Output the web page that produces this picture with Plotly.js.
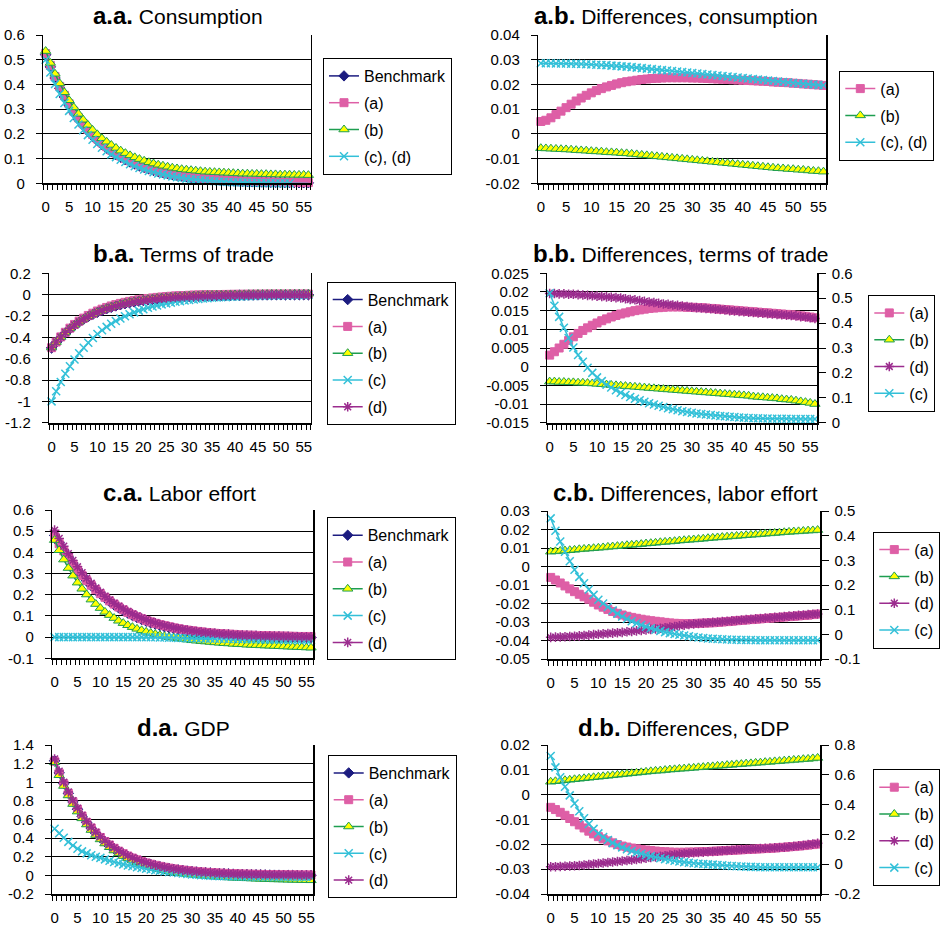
<!DOCTYPE html>
<html><head><meta charset="utf-8">
<script src="https://cdn.plot.ly/plotly-3.0.1.min.js"></script>
<style>html,body{margin:0;padding:0;background:#fff}#chart{width:940px;height:926px}</style>
</head><body><div id="chart"></div>
<script>
// ---------------- DATA ----------------
const periods = [0,1,2,3,4,5,6,7,8,9,10,11,12,13,14,15,16,17,18,19,20,21,22,23,24,25,26,27,28,29,30,31,32,33,34,35,36,37,38,39,40,41,42,43,44,45,46,47,48,49,50,51,52,53,54,55,56];
const xTickVals = [0,5,10,15,20,25,30,35,40,45,50,55];

// a.a. Consumption
const aaYTicks = ["0","0.1","0.2","0.3","0.4","0.5","0.6"];
const aaBench = [0.520,0.471,0.426,0.385,0.349,0.315,0.285,0.258,0.234,0.211,0.191,0.173,0.157,0.142,0.128,0.116,0.105,0.095,0.086,0.078,0.070,0.064,0.058,0.052,0.047,0.043,0.039,0.035,0.032,0.029,0.026,0.023,0.021,0.019,0.017,0.016,0.014,0.013,0.012,0.011,0.010,0.009,0.008,0.007,0.006,0.006,0.005,0.005,0.004,0.004,0.004,0.003,0.003,0.003,0.002,0.002,0.002];
const aaA = [0.525,0.477,0.432,0.392,0.356,0.322,0.292,0.265,0.241,0.218,0.198,0.180,0.163,0.148,0.134,0.122,0.110,0.100,0.091,0.082,0.074,0.067,0.061,0.055,0.050,0.045,0.041,0.037,0.034,0.031,0.028,0.025,0.023,0.021,0.019,0.017,0.016,0.014,0.013,0.012,0.011,0.010,0.009,0.008,0.007,0.007,0.006,0.006,0.005,0.005,0.004,0.004,0.004,0.003,0.003,0.003,0.003];
const aaB = [0.535,0.487,0.443,0.404,0.368,0.336,0.307,0.281,0.257,0.236,0.216,0.198,0.182,0.168,0.155,0.143,0.132,0.122,0.113,0.105,0.098,0.091,0.085,0.080,0.075,0.071,0.067,0.063,0.060,0.057,0.055,0.053,0.051,0.049,0.047,0.046,0.045,0.044,0.043,0.042,0.041,0.040,0.039,0.039,0.038,0.038,0.037,0.037,0.036,0.036,0.035,0.035,0.035,0.034,0.034,0.034,0.033];
const aaCD = [0.500,0.448,0.402,0.361,0.325,0.293,0.264,0.238,0.215,0.195,0.176,0.159,0.144,0.130,0.117,0.106,0.095,0.086,0.077,0.069,0.062,0.056,0.050,0.045,0.040,0.036,0.032,0.028,0.025,0.022,0.019,0.017,0.015,0.013,0.011,0.010,0.008,0.007,0.006,0.005,0.004,0.004,0.003,0.003,0.002,0.002,0.001,0.001,0.001,0.000,0.000,0.000,0.000,-0.001,-0.001,-0.001,-0.001];

// a.b. Differences, consumption
const abYTicks = ["-0.02","-0.01","0","0.01","0.02","0.03","0.04"];
const abA = [0.0050,0.0055,0.0065,0.0078,0.0092,0.0106,0.0120,0.0133,0.0145,0.0156,0.0166,0.0175,0.0183,0.0190,0.0196,0.0202,0.0207,0.0211,0.0214,0.0217,0.0220,0.0222,0.0224,0.0225,0.0226,0.0227,0.0227,0.0227,0.0227,0.0227,0.0226,0.0226,0.0225,0.0224,0.0223,0.0222,0.0221,0.0220,0.0219,0.0218,0.0217,0.0216,0.0215,0.0214,0.0213,0.0212,0.0210,0.0209,0.0208,0.0207,0.0205,0.0204,0.0202,0.0201,0.0199,0.0198,0.0196];
const abB = [-0.0058,-0.0059,-0.0060,-0.0061,-0.0062,-0.0063,-0.0064,-0.0066,-0.0067,-0.0068,-0.0070,-0.0071,-0.0072,-0.0074,-0.0075,-0.0076,-0.0078,-0.0079,-0.0081,-0.0083,-0.0085,-0.0087,-0.0089,-0.0091,-0.0093,-0.0095,-0.0097,-0.0099,-0.0101,-0.0103,-0.0105,-0.0107,-0.0109,-0.0111,-0.0113,-0.0115,-0.0117,-0.0119,-0.0121,-0.0123,-0.0125,-0.0127,-0.0129,-0.0131,-0.0133,-0.0135,-0.0137,-0.0139,-0.0140,-0.0142,-0.0143,-0.0145,-0.0146,-0.0148,-0.0150,-0.0151,-0.0153];
const abCD = [0.0286,0.0286,0.0286,0.0285,0.0285,0.0285,0.0284,0.0284,0.0283,0.0282,0.0281,0.0280,0.0279,0.0278,0.0276,0.0275,0.0273,0.0272,0.0270,0.0268,0.0266,0.0264,0.0262,0.0260,0.0258,0.0256,0.0254,0.0252,0.0250,0.0248,0.0246,0.0244,0.0242,0.0240,0.0238,0.0236,0.0234,0.0232,0.0230,0.0228,0.0226,0.0224,0.0222,0.0220,0.0218,0.0216,0.0214,0.0212,0.0210,0.0208,0.0206,0.0204,0.0203,0.0201,0.0200,0.0198,0.0197];

// b.a. Terms of trade
const baYTicks = ["-1.2","-1","-0.8","-0.6","-0.4","-0.2","0","0.2"];
const baBench = [-0.500,-0.448,-0.401,-0.359,-0.321,-0.287,-0.257,-0.230,-0.206,-0.185,-0.165,-0.148,-0.132,-0.119,-0.106,-0.095,-0.085,-0.076,-0.068,-0.061,-0.055,-0.049,-0.044,-0.039,-0.035,-0.031,-0.028,-0.025,-0.023,-0.020,-0.018,-0.016,-0.015,-0.013,-0.012,-0.011,-0.010,-0.009,-0.008,-0.007,-0.006,-0.006,-0.005,-0.004,-0.004,-0.003,-0.003,-0.003,-0.002,-0.002,-0.002,-0.002,-0.002,-0.001,-0.001,-0.001,-0.001];
const baA = [-0.497,-0.444,-0.396,-0.353,-0.314,-0.279,-0.248,-0.220,-0.195,-0.174,-0.153,-0.136,-0.120,-0.106,-0.093,-0.082,-0.072,-0.063,-0.055,-0.048,-0.042,-0.036,-0.031,-0.026,-0.022,-0.018,-0.015,-0.012,-0.010,-0.008,-0.006,-0.004,-0.003,-0.002,-0.001,0.000,0.001,0.001,0.002,0.002,0.003,0.003,0.003,0.004,0.004,0.004,0.004,0.005,0.005,0.005,0.005,0.005,0.005,0.005,0.005,0.005,0.005];
const baB = [-0.496,-0.444,-0.397,-0.355,-0.317,-0.283,-0.253,-0.226,-0.202,-0.180,-0.160,-0.143,-0.127,-0.113,-0.101,-0.089,-0.079,-0.070,-0.062,-0.055,-0.048,-0.042,-0.037,-0.032,-0.028,-0.024,-0.021,-0.018,-0.015,-0.013,-0.010,-0.008,-0.007,-0.005,-0.004,-0.003,-0.002,-0.001,0.000,0.001,0.002,0.002,0.003,0.004,0.004,0.005,0.005,0.005,0.006,0.006,0.007,0.007,0.007,0.008,0.008,0.008,0.009];
const baC = [-1.000,-0.905,-0.819,-0.741,-0.671,-0.607,-0.549,-0.497,-0.450,-0.407,-0.368,-0.333,-0.302,-0.273,-0.247,-0.224,-0.202,-0.183,-0.166,-0.150,-0.136,-0.123,-0.111,-0.101,-0.091,-0.082,-0.075,-0.067,-0.061,-0.055,-0.050,-0.045,-0.041,-0.037,-0.034,-0.030,-0.027,-0.025,-0.023,-0.020,-0.018,-0.017,-0.015,-0.014,-0.012,-0.011,-0.010,-0.009,-0.008,-0.007,-0.007,-0.006,-0.006,-0.005,-0.005,-0.004,-0.004];
const baD = [-0.495,-0.443,-0.397,-0.355,-0.318,-0.284,-0.254,-0.228,-0.204,-0.183,-0.163,-0.146,-0.131,-0.118,-0.105,-0.094,-0.084,-0.075,-0.067,-0.060,-0.054,-0.048,-0.043,-0.038,-0.034,-0.030,-0.027,-0.024,-0.022,-0.019,-0.017,-0.015,-0.014,-0.012,-0.011,-0.010,-0.009,-0.008,-0.007,-0.006,-0.005,-0.005,-0.004,-0.003,-0.003,-0.002,-0.002,-0.002,-0.001,-0.001,-0.001,-0.001,-0.001,0.000,0.000,0.000,0.000];

// b.b. Differences, terms of trade
const bbYTicks = ["-0.015","-0.01","-0.005","0","0.005","0.01","0.015","0.02","0.025"];
const bbY2Ticks = ["0","0.1","0.2","0.3","0.4","0.5","0.6"];
const bbA = [0.0031,0.0040,0.0050,0.0060,0.0070,0.0080,0.0089,0.0097,0.0104,0.0111,0.0117,0.0123,0.0128,0.0133,0.0137,0.0141,0.0144,0.0147,0.0150,0.0152,0.0154,0.0156,0.0157,0.0158,0.0159,0.0160,0.0160,0.0160,0.0160,0.0159,0.0159,0.0158,0.0158,0.0157,0.0156,0.0155,0.0154,0.0153,0.0152,0.0151,0.0150,0.0149,0.0148,0.0147,0.0146,0.0145,0.0144,0.0143,0.0142,0.0141,0.0140,0.0139,0.0138,0.0136,0.0135,0.0133,0.0131];
const bbB = [-0.0040,-0.0040,-0.0041,-0.0041,-0.0042,-0.0042,-0.0043,-0.0043,-0.0044,-0.0045,-0.0046,-0.0047,-0.0048,-0.0049,-0.0050,-0.0051,-0.0052,-0.0053,-0.0054,-0.0055,-0.0056,-0.0057,-0.0058,-0.0059,-0.0060,-0.0061,-0.0062,-0.0063,-0.0064,-0.0065,-0.0066,-0.0067,-0.0068,-0.0069,-0.0070,-0.0071,-0.0072,-0.0073,-0.0074,-0.0075,-0.0076,-0.0077,-0.0078,-0.0080,-0.0081,-0.0082,-0.0083,-0.0084,-0.0085,-0.0087,-0.0088,-0.0089,-0.0091,-0.0093,-0.0095,-0.0097,-0.0100];
const bbD = [0.0196,0.0196,0.0195,0.0195,0.0194,0.0194,0.0193,0.0192,0.0191,0.0190,0.0189,0.0188,0.0187,0.0186,0.0185,0.0184,0.0182,0.0180,0.0179,0.0177,0.0175,0.0173,0.0172,0.0170,0.0168,0.0167,0.0165,0.0164,0.0162,0.0161,0.0159,0.0158,0.0157,0.0156,0.0155,0.0154,0.0153,0.0152,0.0150,0.0149,0.0148,0.0147,0.0146,0.0145,0.0144,0.0143,0.0142,0.0141,0.0140,0.0139,0.0138,0.0137,0.0136,0.0134,0.0133,0.0131,0.0129];
const bbC = [0.520,0.470,0.425,0.381,0.340,0.302,0.272,0.245,0.221,0.200,0.182,0.167,0.153,0.141,0.130,0.120,0.111,0.103,0.096,0.090,0.084,0.078,0.073,0.068,0.063,0.058,0.054,0.050,0.046,0.043,0.040,0.037,0.035,0.033,0.031,0.029,0.027,0.026,0.024,0.023,0.021,0.020,0.019,0.018,0.018,0.017,0.017,0.016,0.016,0.016,0.016,0.015,0.015,0.015,0.015,0.015,0.015];

// c.a. Labor effort
const caYTicks = ["-0.1","0","0.1","0.2","0.3","0.4","0.5","0.6"];
const caBench = [0.480,0.445,0.410,0.377,0.346,0.317,0.291,0.266,0.243,0.222,0.203,0.185,0.168,0.152,0.138,0.125,0.113,0.102,0.092,0.083,0.075,0.067,0.061,0.055,0.049,0.044,0.040,0.036,0.032,0.029,0.026,0.023,0.021,0.019,0.017,0.015,0.013,0.012,0.011,0.009,0.008,0.007,0.006,0.005,0.005,0.004,0.003,0.003,0.002,0.002,0.001,0.001,0.000,0.000,-0.001,-0.001,-0.002];
const caA = [0.475,0.441,0.407,0.375,0.345,0.317,0.291,0.267,0.245,0.224,0.205,0.188,0.171,0.156,0.142,0.129,0.117,0.106,0.096,0.087,0.079,0.072,0.065,0.059,0.054,0.049,0.044,0.040,0.036,0.033,0.030,0.027,0.025,0.022,0.020,0.018,0.017,0.015,0.014,0.013,0.011,0.010,0.009,0.009,0.008,0.007,0.007,0.006,0.005,0.005,0.005,0.004,0.004,0.003,0.003,0.003,0.003];
const caB = [0.458,0.410,0.366,0.326,0.290,0.257,0.228,0.201,0.177,0.156,0.137,0.119,0.104,0.090,0.077,0.066,0.056,0.047,0.039,0.032,0.025,0.019,0.014,0.009,0.004,0.000,-0.003,-0.006,-0.009,-0.012,-0.015,-0.017,-0.019,-0.021,-0.023,-0.025,-0.027,-0.029,-0.030,-0.032,-0.033,-0.034,-0.036,-0.037,-0.038,-0.039,-0.040,-0.041,-0.042,-0.043,-0.044,-0.045,-0.046,-0.047,-0.048,-0.049,-0.050];
const caC = [0.000,0.000,0.000,0.000,0.000,0.000,0.000,0.000,0.000,0.000,0.000,0.000,0.000,0.000,0.000,0.000,0.000,0.000,0.000,0.000,0.000,-0.001,-0.001,-0.002,-0.002,-0.003,-0.003,-0.004,-0.004,-0.005,-0.005,-0.006,-0.006,-0.007,-0.007,-0.008,-0.008,-0.008,-0.009,-0.009,-0.009,-0.010,-0.010,-0.010,-0.010,-0.011,-0.011,-0.011,-0.011,-0.011,-0.012,-0.012,-0.012,-0.012,-0.012,-0.012,-0.012];
const caD = [0.505,0.466,0.429,0.394,0.362,0.332,0.304,0.278,0.254,0.232,0.212,0.193,0.176,0.160,0.146,0.133,0.121,0.110,0.100,0.090,0.082,0.074,0.067,0.061,0.055,0.050,0.045,0.041,0.037,0.033,0.030,0.027,0.024,0.022,0.020,0.018,0.016,0.014,0.013,0.012,0.010,0.009,0.008,0.007,0.007,0.006,0.005,0.005,0.004,0.004,0.003,0.003,0.002,0.002,0.002,0.001,0.001];

// c.b. Differences, labor effort
const cbYTicks = ["-0.05","-0.04","-0.03","-0.02","-0.01","0","0.01","0.02","0.03"];
const cbY2Ticks = ["-0.1","0","0.1","0.2","0.3","0.4","0.5"];
const cbA = [-0.0059,-0.0073,-0.0089,-0.0105,-0.0121,-0.0136,-0.0150,-0.0164,-0.0177,-0.0193,-0.0208,-0.0220,-0.0232,-0.0243,-0.0253,-0.0262,-0.0269,-0.0275,-0.0280,-0.0285,-0.0289,-0.0293,-0.0296,-0.0299,-0.0302,-0.0305,-0.0307,-0.0308,-0.0309,-0.0309,-0.0308,-0.0307,-0.0306,-0.0305,-0.0304,-0.0302,-0.0300,-0.0298,-0.0296,-0.0293,-0.0291,-0.0289,-0.0287,-0.0285,-0.0283,-0.0281,-0.0279,-0.0277,-0.0275,-0.0273,-0.0271,-0.0269,-0.0267,-0.0265,-0.0263,-0.0260,-0.0257];
const cbB = [0.0080,0.0082,0.0084,0.0086,0.0088,0.0090,0.0093,0.0095,0.0097,0.0099,0.0101,0.0103,0.0106,0.0108,0.0110,0.0112,0.0115,0.0117,0.0119,0.0121,0.0124,0.0126,0.0128,0.0131,0.0133,0.0135,0.0137,0.0140,0.0142,0.0144,0.0146,0.0148,0.0150,0.0153,0.0155,0.0157,0.0159,0.0161,0.0163,0.0165,0.0167,0.0169,0.0171,0.0173,0.0175,0.0177,0.0179,0.0181,0.0183,0.0185,0.0187,0.0189,0.0190,0.0192,0.0194,0.0195,0.0197];
const cbD = [-0.0383,-0.0382,-0.0381,-0.0380,-0.0378,-0.0377,-0.0375,-0.0373,-0.0371,-0.0368,-0.0366,-0.0364,-0.0362,-0.0360,-0.0358,-0.0356,-0.0353,-0.0351,-0.0348,-0.0345,-0.0343,-0.0340,-0.0337,-0.0334,-0.0331,-0.0327,-0.0324,-0.0320,-0.0317,-0.0313,-0.0310,-0.0308,-0.0306,-0.0304,-0.0302,-0.0300,-0.0298,-0.0296,-0.0294,-0.0292,-0.0289,-0.0287,-0.0285,-0.0283,-0.0281,-0.0279,-0.0277,-0.0275,-0.0273,-0.0270,-0.0268,-0.0266,-0.0264,-0.0262,-0.0260,-0.0258,-0.0257];
const cbC = [0.470,0.420,0.376,0.335,0.296,0.262,0.233,0.207,0.182,0.160,0.140,0.125,0.111,0.097,0.084,0.072,0.062,0.053,0.045,0.038,0.031,0.025,0.019,0.014,0.009,0.005,0.001,-0.002,-0.005,-0.008,-0.011,-0.013,-0.015,-0.017,-0.018,-0.019,-0.020,-0.021,-0.022,-0.022,-0.023,-0.023,-0.023,-0.024,-0.024,-0.024,-0.024,-0.024,-0.024,-0.024,-0.024,-0.024,-0.024,-0.024,-0.024,-0.024,-0.024];

// d.a. GDP
const daYTicks = ["-0.2","0","0.2","0.4","0.6","0.8","1","1.2","1.4"];
const daBench = [1.230,1.100,0.985,0.880,0.790,0.710,0.635,0.567,0.506,0.452,0.403,0.360,0.321,0.286,0.255,0.228,0.203,0.181,0.162,0.145,0.130,0.116,0.104,0.093,0.083,0.074,0.066,0.059,0.053,0.047,0.042,0.037,0.033,0.029,0.026,0.023,0.020,0.018,0.016,0.014,0.012,0.011,0.009,0.008,0.007,0.006,0.005,0.004,0.003,0.003,0.002,0.001,0.001,0.000,0.000,-0.001,-0.001];
const daA = [1.225,1.097,0.983,0.880,0.790,0.710,0.636,0.569,0.509,0.455,0.407,0.364,0.326,0.291,0.260,0.233,0.208,0.186,0.167,0.149,0.134,0.120,0.108,0.097,0.087,0.078,0.070,0.063,0.057,0.051,0.046,0.041,0.037,0.033,0.030,0.027,0.024,0.022,0.020,0.018,0.016,0.014,0.013,0.012,0.011,0.010,0.009,0.008,0.007,0.007,0.006,0.006,0.005,0.005,0.004,0.004,0.004];
const daB = [1.215,1.075,0.960,0.858,0.766,0.685,0.612,0.546,0.487,0.434,0.386,0.342,0.302,0.267,0.236,0.207,0.182,0.160,0.140,0.122,0.105,0.090,0.077,0.065,0.054,0.044,0.035,0.027,0.020,0.014,0.008,0.003,-0.002,-0.006,-0.010,-0.014,-0.017,-0.020,-0.023,-0.026,-0.028,-0.030,-0.032,-0.034,-0.036,-0.038,-0.040,-0.041,-0.043,-0.044,-0.045,-0.047,-0.048,-0.049,-0.051,-0.052,-0.053];
const daC = [0.500,0.452,0.405,0.360,0.320,0.285,0.258,0.236,0.217,0.200,0.188,0.172,0.157,0.143,0.130,0.118,0.107,0.097,0.088,0.079,0.071,0.063,0.056,0.049,0.043,0.037,0.031,0.025,0.020,0.015,0.010,0.006,0.002,-0.001,-0.004,-0.006,-0.008,-0.009,-0.010,-0.011,-0.012,-0.013,-0.013,-0.014,-0.014,-0.015,-0.015,-0.015,-0.016,-0.016,-0.016,-0.016,-0.016,-0.016,-0.016,-0.016,-0.016];
const daD = [1.250,1.120,1.002,0.896,0.803,0.722,0.647,0.578,0.517,0.463,0.414,0.370,0.331,0.296,0.264,0.236,0.211,0.189,0.169,0.151,0.135,0.121,0.108,0.097,0.087,0.078,0.070,0.063,0.056,0.050,0.045,0.040,0.036,0.032,0.029,0.026,0.023,0.021,0.019,0.017,0.015,0.013,0.012,0.011,0.010,0.009,0.008,0.007,0.006,0.006,0.005,0.005,0.004,0.004,0.003,0.003,0.003];

// d.b. Differences, GDP
const dbYTicks = ["-0.04","-0.03","-0.02","-0.01","0","0.01","0.02"];
const dbY2Ticks = ["-0.2","0","0.2","0.4","0.6","0.8"];
const dbA = [-0.0051,-0.0060,-0.0071,-0.0083,-0.0096,-0.0109,-0.0122,-0.0134,-0.0147,-0.0158,-0.0169,-0.0178,-0.0186,-0.0194,-0.0201,-0.0207,-0.0211,-0.0215,-0.0218,-0.0221,-0.0223,-0.0225,-0.0227,-0.0229,-0.0230,-0.0231,-0.0232,-0.0232,-0.0232,-0.0231,-0.0231,-0.0230,-0.0229,-0.0229,-0.0228,-0.0227,-0.0226,-0.0225,-0.0224,-0.0223,-0.0222,-0.0221,-0.0220,-0.0219,-0.0218,-0.0217,-0.0216,-0.0215,-0.0213,-0.0212,-0.0210,-0.0209,-0.0207,-0.0205,-0.0203,-0.0201,-0.0199];
const dbB = [0.0052,0.0054,0.0056,0.0058,0.0060,0.0062,0.0064,0.0066,0.0068,0.0070,0.0072,0.0074,0.0076,0.0078,0.0080,0.0082,0.0084,0.0086,0.0088,0.0090,0.0092,0.0094,0.0096,0.0097,0.0099,0.0101,0.0102,0.0104,0.0105,0.0107,0.0108,0.0110,0.0111,0.0113,0.0114,0.0116,0.0117,0.0119,0.0120,0.0122,0.0123,0.0125,0.0126,0.0128,0.0129,0.0131,0.0132,0.0134,0.0135,0.0137,0.0138,0.0140,0.0141,0.0143,0.0144,0.0146,0.0148];
const dbD = [-0.0290,-0.0290,-0.0289,-0.0288,-0.0287,-0.0286,-0.0285,-0.0283,-0.0281,-0.0279,-0.0277,-0.0275,-0.0273,-0.0271,-0.0269,-0.0267,-0.0265,-0.0263,-0.0261,-0.0258,-0.0256,-0.0253,-0.0251,-0.0248,-0.0246,-0.0243,-0.0241,-0.0239,-0.0237,-0.0236,-0.0234,-0.0233,-0.0232,-0.0230,-0.0229,-0.0228,-0.0226,-0.0225,-0.0224,-0.0222,-0.0221,-0.0220,-0.0219,-0.0218,-0.0217,-0.0216,-0.0215,-0.0214,-0.0213,-0.0212,-0.0210,-0.0208,-0.0206,-0.0204,-0.0201,-0.0199,-0.0196];
const dbC = [0.726,0.650,0.583,0.520,0.462,0.408,0.356,0.308,0.270,0.237,0.207,0.183,0.162,0.143,0.127,0.113,0.100,0.089,0.079,0.070,0.062,0.054,0.047,0.040,0.034,0.028,0.023,0.018,0.014,0.010,0.006,0.003,0.001,-0.001,-0.003,-0.005,-0.007,-0.010,-0.012,-0.014,-0.016,-0.017,-0.018,-0.019,-0.020,-0.020,-0.021,-0.021,-0.021,-0.021,-0.021,-0.021,-0.021,-0.021,-0.021,-0.021,-0.021];

// ---------------- PANELS ----------------
const panels = [
  {bold:'a.a.', title:'Consumption', yTicks:aaYTicks,
   series:[['Benchmark',aaBench,'bench'],['(a)',aaA,'a'],['(b)',aaB,'b'],['(c), (d)',aaCD,'c']]},
  {bold:'a.b.', title:'Differences, consumption', yTicks:abYTicks,
   series:[['(a)',abA,'a'],['(b)',abB,'b'],['(c), (d)',abCD,'c']]},
  {bold:'b.a.', title:'Terms of trade', yTicks:baYTicks,
   series:[['Benchmark',baBench,'bench'],['(a)',baA,'a'],['(b)',baB,'b'],['(c)',baC,'c'],['(d)',baD,'d']]},
  {bold:'b.b.', title:'Differences, terms of trade', yTicks:bbYTicks, y2Ticks:bbY2Ticks,
   series:[['(a)',bbA,'a'],['(b)',bbB,'b'],['(d)',bbD,'d'],['(c)',bbC,'c',true]]},
  {bold:'c.a.', title:'Labor effort', yTicks:caYTicks,
   series:[['Benchmark',caBench,'bench'],['(a)',caA,'a'],['(b)',caB,'b'],['(c)',caC,'c'],['(d)',caD,'d']]},
  {bold:'c.b.', title:'Differences, labor effort', yTicks:cbYTicks, y2Ticks:cbY2Ticks,
   series:[['(a)',cbA,'a'],['(b)',cbB,'b'],['(d)',cbD,'d'],['(c)',cbC,'c',true]]},
  {bold:'d.a.', title:'GDP', yTicks:daYTicks,
   series:[['Benchmark',daBench,'bench'],['(a)',daA,'a'],['(b)',daB,'b'],['(c)',daC,'c'],['(d)',daD,'d']]},
  {bold:'d.b.', title:'Differences, GDP', yTicks:dbYTicks, y2Ticks:dbY2Ticks,
   series:[['(a)',dbA,'a'],['(b)',dbB,'b'],['(d)',dbD,'d'],['(c)',dbC,'c',true]]}
];

// geometry in pixels: plot [left,right,top,bottom], legend [left,top], title [cx,cy]
const geom = [
  {p:[43.3,310.7,35,183.3],   lg:[323,58],    t:[178,16]},
  {p:[538.3,826,35,183.3],    lg:[839.3,70.7],t:[676,16]},
  {p:[49.3,310.7,273.3,422.7],lg:[326.7,281.7],t:[183,253]},
  {p:[547.3,817.3,273.3,422.7],lg:[868.3,295],t:[681,253]},
  {p:[52.3,313.3,510,658.3],  lg:[326.7,517.3],t:[179,492.7]},
  {p:[548.3,820,511,659],     lg:[873.3,531.7],t:[685,492.7]},
  {p:[52.3,313.3,745,894],    lg:[327.7,755], t:[183,727.3]},
  {p:[548.3,820,745,894],     lg:[873.3,769.3],t:[684,727.3]}
];

const W = 940, H = 926;
const FONT = 'Liberation Sans, Arial, Helvetica, sans-serif';
const styles = {
  bench:{color:'#1C1C80', symbol:'diamond', size:8, fill:'#1C1C80', lw:1},
  a:{color:'#DE5FA6', symbol:'square', size:8, fill:'#DE5FA6', lw:1},
  b:{color:'#1E9E50', symbol:'triangle-up', size:9, fill:'#FFFF00', lw:1},
  c:{color:'#33C0D8', symbol:'x-thin-open', size:8, fill:'#33C0D8', lw:1.5},
  d:{color:'#9B2C8E', symbol:'asterisk-open', size:8, fill:'#9B2C8E', lw:1.5}
};

const traces = [];
const layout = {
  width: W, height: H,
  margin: {l:0, r:0, t:0, b:0, autoexpand:false},
  paper_bgcolor: '#fff', plot_bgcolor: '#fff',
  font: {family: FONT, color: '#000', size: 15},
  showlegend: true,
  annotations: []
};
let rightIdx = 9;
panels.forEach((pn, i) => {
  const n = i + 1;
  const g = geom[i];
  const xa = 'x' + n, ya = 'y' + n;
  const lgName = n === 1 ? 'legend' : 'legend' + n;
  let y2name = null;
  if (pn.y2Ticks) { y2name = 'y' + rightIdx; rightIdx++; }
  pn.series.forEach((s, k) => {
    const st = styles[s[2]];
    traces.push({
      type: 'scatter', mode: 'lines+markers',
      x: periods, y: s[1], name: s[0],
      xaxis: xa, yaxis: (s[3] ? y2name : ya),
      legend: lgName, legendgroup: 'g' + n + '_' + k,
      cliponaxis: false,
      line: {color: st.color, width: 1.5},
      marker: {symbol: st.symbol, size: st.size, color: st.fill,
               line: {color: st.color, width: st.lw}}
    });
  });
  const domX = [g.p[0] / W, g.p[1] / W];
  const domY = [1 - g.p[3] / H, 1 - g.p[2] / H];
  layout['xaxis' + n] = {
    domain: domX, anchor: ya, range: [-0.5, 56.5],
    tickmode: 'array', tickvals: xTickVals, ticktext: xTickVals.map(String), ticks: '',
    showgrid: false, zeroline: false, showline: true, linecolor: '#000', linewidth: 2,
    tickfont: {family: FONT, size: 15, color: '#000'}, ticklabelstandoff: 9,
    minor: {tickmode: 'linear', tick0: -0.5, dtick: 1, ticks: 'outside', ticklen: 5, tickwidth: 1, tickcolor: '#000', showgrid: false},
    fixedrange: true
  };
  const yt = pn.yTicks;
  const yv = yt.map(parseFloat);
  layout['yaxis' + n] = {
    domain: domY, anchor: xa, range: [yv[0], yv[yv.length - 1]],
    tickmode: 'array', tickvals: yv, ticktext: yt,
    ticks: 'outside', ticklen: 6, tickwidth: 1, tickcolor: '#000',
    showgrid: true, gridcolor: '#000', gridwidth: 1,
    zeroline: false, showline: true, linecolor: '#000', linewidth: 1.5, mirror: true,
    tickfont: {family: FONT, size: 15, color: '#000'}, ticklabelstandoff: 8,
    fixedrange: true
  };
  if (y2name) {
    const rt = pn.y2Ticks;
    const rv = rt.map(parseFloat);
    layout['yaxis' + y2name.slice(1)] = {
      overlaying: ya, side: 'right', anchor: xa,
      range: [rv[0], rv[rv.length - 1]],
      tickmode: 'array', tickvals: rv, ticktext: rt,
      ticks: 'outside', ticklen: 7, tickwidth: 1, tickcolor: '#000',
      showgrid: false, zeroline: false, showline: true, linecolor: '#000', linewidth: 1.5,
      tickfont: {family: FONT, size: 15, color: '#000'}, ticklabelstandoff: 3,
      fixedrange: true
    };
  }
  layout[lgName] = {
    x: g.lg[0] / W, y: 1 - g.lg[1] / H, xanchor: 'left', yanchor: 'top',
    xref: 'paper', yref: 'paper',
    bgcolor: '#fff', bordercolor: '#000', borderwidth: 1,
    font: {family: FONT, size: 16, color: '#000'},
    traceorder: 'grouped', tracegroupgap: 3
  };
  layout.annotations.push({
    xref: 'paper', yref: 'paper', x: g.t[0] / W, y: 1 - g.t[1] / H,
    xanchor: 'center', yanchor: 'middle', showarrow: false,
    text: '<span style="font-size:24px"><b>' + pn.bold + '</b></span> ' + pn.title,
    font: {family: FONT, size: 21, color: '#000'}
  });
});

Plotly.newPlot('chart', traces, layout, {staticPlot: true, displayModeBar: false});
</script>
</body></html>
